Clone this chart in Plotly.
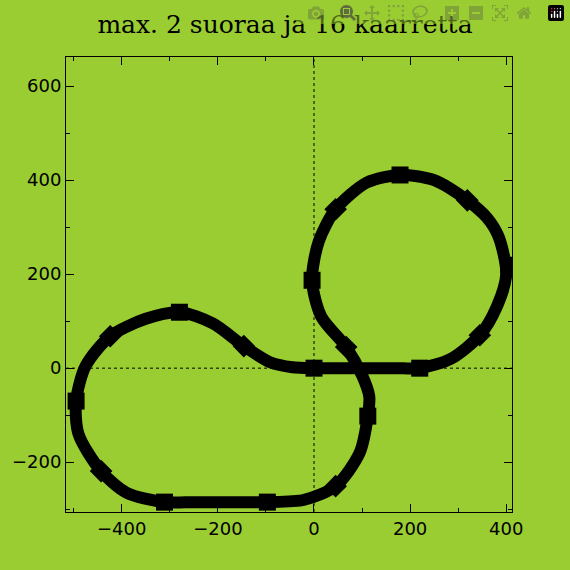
import plotly.graph_objects as go

# path of the track (data units)
path_x = [0, 60, 120, 170, 220, 285, 345, 380, 400, 384, 360, 319, 250, 179, 110, 45, 10, -4, 15, 67, 100, 115, 112, 95, 45, -20, -97,
          -150, -200, -250, -311, -390, -443, -490, -495, -475, -424, -350, -280, -210, -146, -90, -45, 0]
path_y = [0, 0, 0, 0, 0, 20, 70, 130, 200, 280, 320, 357, 400, 411, 395, 338, 270, 187, 110, 45, -15, -60, -102, -180, -251, -280, -285,
          -285, -285, -285, -285, -265, -219, -140, -70, 5, 68, 105, 119, 95, 47, 12, 2, 0]

# marker points
sq_x = [0, 220, 405, 179, -4, 112, -97, -311, -495, -280]
sq_y = [0, 0, 219, 411, 187, -102, -285, -285, -70, 119]
di_x = [345, 319, 45, 67, 45, -443, -424, -146]
di_y = [70, 357, 338, 45, -251, -219, 68, 47]

green = "#9acd32"

fig = go.Figure()
fig.add_trace(go.Scatter(x=path_x, y=path_y, mode="lines",
                         line=dict(color="black", width=12, shape="spline", smoothing=0.8),
                         hoverinfo="skip"))
fig.add_trace(go.Scatter(x=sq_x, y=sq_y, mode="markers",
                         marker=dict(symbol="square", size=17, color="black")))
fig.add_trace(go.Scatter(x=di_x, y=di_y, mode="markers",
                         marker=dict(symbol="square", angle=45, size=16, color="black")))

fig.add_hline(y=0, line=dict(color="black", width=1, dash="dot"))
fig.add_vline(x=0, line=dict(color="black", width=1, dash="dot"))

axis_style = dict(showgrid=False, zeroline=False, showline=True, linecolor="black", linewidth=1,
                  mirror="ticks", ticks="inside", ticklen=8, tickcolor="black",
                  minor=dict(ticks="inside", ticklen=4, dtick=100, tickcolor="black"),
                  tickfont=dict(family="DejaVu Sans", size=18, color="black"))

fig.update_layout(
    width=570, height=570,
    paper_bgcolor=green, plot_bgcolor=green,
    showlegend=False,
    title=dict(text="max. 2 suoraa ja 16 kaarretta", x=0.5, y=0.972, xanchor="center",
               font=dict(family="DejaVu Serif", size=25, color="black")),
    margin=dict(l=57, r=58, t=57, b=58),
    xaxis=dict(range=[-516, 412], tickvals=[-400, -200, 0, 200, 400], **axis_style),
    yaxis=dict(range=[-306, 662], tickvals=[-200, 0, 200, 400, 600], **axis_style),
)

fig.write_html("out.html", post_script="document.body.style.margin='0';")
